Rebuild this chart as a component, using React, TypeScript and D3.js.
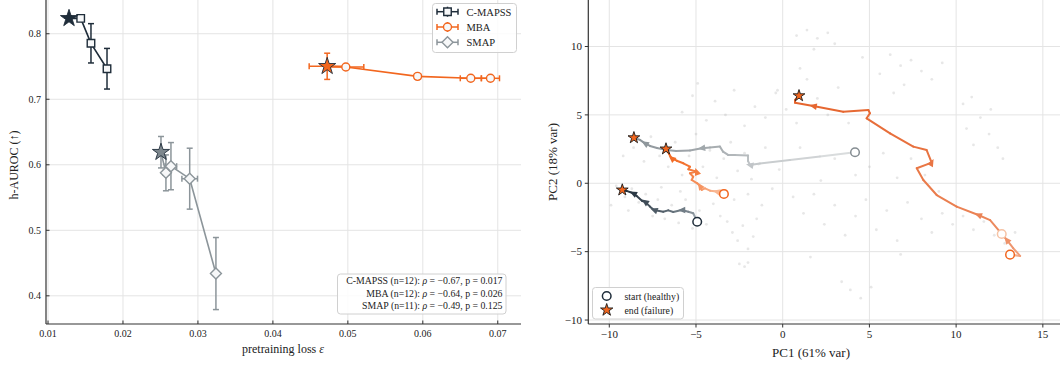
import * as d3 from 'd3';

// ---------- left panel: pretraining loss vs h-AUROC ----------
const cmapssLoss = [0.0128, 0.01436, 0.01573, 0.01787];
const cmapssAuroc = [0.8235, 0.8235, 0.7854, 0.7466];
const cmapssLossErr = [0.0003, 0.0003, 0.0002, 0.0002];
const cmapssAurocErr = [0.004, 0.004, 0.03, 0.031];

const mbaLoss = [0.04724, 0.04973, 0.0593, 0.0664, 0.06903];
const mbaAuroc = [0.7503, 0.7492, 0.735, 0.732, 0.732];
const mbaLossErr = [0.0024, 0.0024, 0.0004, 0.0014, 0.0012];
const mbaAurocErr = [0.02, 0.003, 0.002, 0.003, 0.003];

const smapLoss = [0.02507, 0.02573, 0.0264, 0.0289, 0.0324];
const smapAuroc = [0.6192, 0.5877, 0.5979, 0.5788, 0.434];
const smapLossErr = [0.0003, 0.0004, 0.00076, 0.00104, 0.0003];
const smapAurocErr = [0.024, 0.0274, 0.036, 0.0465, 0.055];

const lossTicks = [0.01, 0.02, 0.03, 0.04, 0.05, 0.06, 0.07];
const aurocTicks = [0.4, 0.5, 0.6, 0.7, 0.8];

const statLines = [
  { name: 'C-MAPSS (n=12): ', rho: '−0.67', p: '0.017' },
  { name: 'MBA (n=12): ', rho: '−0.64', p: '0.026' },
  { name: 'SMAP (n=11): ', rho: '−0.49', p: '0.125' },
];

// ---------- right panel: PCA trajectories ----------
const cmapssTraj: [number, number][] = [
  [-4.93, -2.81], [-5.16, -2.19], [-5.44, -2.08], [-5.82, -1.96], [-6.31, -2.1], [-6.6, -1.98],
  [-6.89, -2.08], [-7.42, -1.95], [-7.65, -1.71], [-7.94, -1.35], [-8.1, -1.3], [-8.42, -0.93],
  [-8.62, -0.73], [-9.0, -0.56], [-9.25, -0.49],
];
const mbaShortTraj: [number, number][] = [
  [-3.39, -0.78], [-3.81, -0.61], [-4.19, -0.54], [-4.48, -0.37], [-4.67, -0.49], [-4.77, -0.2],
  [-4.93, 0.0], [-5.25, 0.24], [-5.16, 0.48], [-5.35, 0.73], [-4.96, 0.85], [-5.44, 1.02],
  [-5.35, 1.21], [-5.73, 1.46], [-6.11, 1.65], [-6.4, 1.83], [-6.54, 2.12], [-6.73, 2.51],
];
const smapTraj: [number, number][] = [
  [4.17, 2.27], [2.15, 1.96], [0.42, 1.7], [-1.31, 1.45], [-1.89, 1.34], [-2.0, 1.63], [-2.0, 2.03],
  [-2.75, 2.07], [-3.15, 2.07], [-3.44, 2.31], [-3.62, 2.68], [-4.19, 2.62], [-4.67, 2.56],
  [-5.35, 2.4], [-6.15, 2.36], [-6.69, 2.43], [-7.25, 2.58], [-7.65, 2.73], [-7.94, 2.92],
  [-8.23, 3.17], [-8.58, 3.33],
];
const mbaLongTraj: [number, number][] = [
  [13.11, -5.22], [13.69, -5.31], [13.28, -4.73], [12.92, -4.14], [12.53, -3.56], [11.96, -2.69],
  [11.28, -2.32], [10.03, -1.71], [8.88, -0.86], [8.11, 0.24], [7.73, 1.1], [8.59, 1.51],
  [8.3, 2.43], [7.53, 2.68], [6.19, 3.65], [4.84, 4.75], [5.03, 5.12], [4.94, 5.36], [3.49, 5.23],
  [1.76, 5.65], [0.71, 5.89], [0.71, 6.09], [0.94, 6.4],
];
const extraStart: [number, number] = [12.63, -3.71];

const cloud: [number, number][] = [
  [-9.6, -0.2], [-9.1, -1.0], [-8.7, -0.4], [-8.3, -1.4], [-7.9, -0.8], [-7.5, -2.4], [-7.2, -1.2],
  [-6.8, -2.6], [-6.4, -1.6], [-6.0, -2.9], [-5.6, -1.2], [-5.2, -3.3], [-4.8, -2.0], [-4.4, -3.0],
  [-4.0, -1.5], [-3.6, -2.4], [-9.9, -1.6], [-8.9, -2.0], [-7.0, -0.3], [-5.9, -0.6],
  [-9.2, 2.0], [-8.6, 2.6], [-8.0, 1.6], [-7.6, 3.4], [-7.1, 2.0], [-6.6, 1.2], [-6.2, 3.0],
  [-5.8, 0.6], [-5.4, 2.0], [-5.0, 3.6], [-4.6, 1.2], [-4.2, 2.4], [-3.8, 0.4], [-3.4, 1.8],
  [-3.0, 3.0], [-2.6, 0.9], [-2.2, 2.2], [-1.8, 0.3], [-1.4, 1.4], [-1.0, 2.6], [-0.6, -0.4],
  [-0.2, 1.0], [-2.8, -1.2], [-2.0, -0.8], [-1.2, -1.6],
  [-3.2, -2.8], [-2.9, -3.6], [-2.6, -4.2], [-2.3, -3.1], [-2.0, -4.8], [-1.7, -3.9], [-2.5, -5.9],
  [-2.2, -6.1], [-2.0, -5.8], [-1.5, -2.6],
  [-5.8, 5.2], [-5.2, 6.4], [-4.9, 7.3], [-4.4, 4.6], [-3.9, 6.0], [-3.3, 5.0], [-2.8, 6.8],
  [-2.2, 4.2], [-1.6, 5.6], [-1.0, 4.8], [-0.4, 6.6], [0.2, 5.4], [0.8, 4.4], [1.4, 7.6],
  [2.0, 6.2], [2.6, 5.0], [3.2, 7.0], [3.8, 4.4], [-0.3, 6.8], [1.0, 8.4],
  [1.4, 11.2], [2.0, 10.6], [2.6, 11.0], [1.8, 9.8], [3.0, 10.2], [0.8, 10.8], [6.2, 9.4],
  [6.8, 8.6], [7.4, 9.0], [8.0, 8.2], [8.6, 7.6], [9.2, 8.8], [7.0, 7.2], [6.4, 6.6], [5.6, 8.0],
  [4.6, 9.2],
  [10.4, 5.8], [10.9, 6.3], [11.4, 4.8], [11.9, 3.6], [12.4, 2.6], [12.7, 1.8], [11.0, 2.8],
  [10.6, 4.0], [12.0, 5.4],
  [0.6, -1.0], [1.2, -2.2], [1.8, -0.8], [2.4, -3.0], [3.0, -1.6], [3.6, -3.8], [4.2, -2.4],
  [4.8, -1.2], [5.4, -3.4], [6.0, -2.0], [6.6, -4.2], [7.2, -1.4], [8.0, -2.6], [8.6, -3.6],
  [9.2, -2.2], [9.8, -3.0], [10.4, -2.4], [11.0, -3.4], [11.6, -2.8], [12.2, -3.8], [12.8, -4.4],
  [13.4, -3.6], [3.4, -7.2], [3.9, -7.8], [4.5, -8.4], [5.1, -7.6], [1.6, -5.4], [6.8, -5.2],
  [5.0, 1.2], [5.8, 2.2], [6.6, 0.4], [7.4, 1.8], [8.2, 0.6], [9.0, -0.6], [4.2, 0.6], [3.0, 1.8],
  [2.2, 0.2], [1.0, 2.6],
];

const pcxTicks = [-10, -5, 0, 5, 10, 15];
const pcyTicks = [-10, -5, 0, 5, 10];

const NAVY = '#1f2d3a';
const ORANGE = '#f2661e';
const GRAY = '#8c959a';
const GRID = '#e4e4e4';
const FONT = '"Liberation Serif", "DejaVu Serif", serif';

const fmtMinus = (v: number) => (v < 0 ? `−${Math.abs(v)}` : `${v}`);

const starPath = (r: number) => d3.symbol().type(d3.symbolStar).size((r * r) / 0.8908130915)()!;
const diamondPath = (r: number) => `M0,${-r}L${r},0L0,${r}L${-r},0Z`;
const squarePath = (s: number) => `M${-s / 2},${-s / 2}h${s}v${s}h${-s}Z`;
const circlePath = (r: number) => d3.symbol().type(d3.symbolCircle).size(Math.PI * r * r)()!;

type Series = {
  id: string;
  color: string;
  marker: string;
  starFill: string;
  loss: number[];
  auroc: number[];
  lossErr: number[];
  aurocErr: number[];
};

const seriesList: Series[] = [
  { id: 'C-MAPSS', color: NAVY, marker: squarePath(7.5), starFill: NAVY, loss: cmapssLoss, auroc: cmapssAuroc, lossErr: cmapssLossErr, aurocErr: cmapssAurocErr },
  { id: 'MBA', color: ORANGE, marker: circlePath(4), starFill: ORANGE, loss: mbaLoss, auroc: mbaAuroc, lossErr: mbaLossErr, aurocErr: mbaAurocErr },
  { id: 'SMAP', color: GRAY, marker: diamondPath(5.5), starFill: '#7d878d', loss: smapLoss, auroc: smapAuroc, lossErr: smapLossErr, aurocErr: smapAurocErr },
];

// gamma < 1 keeps the path dark for longer before fading towards the start
const trajList = [
  { id: 'cmapss', pts: cmapssTraj, c0: '#a9b3ba', c1: NAVY, ring: NAVY, gamma: 0.6, arrows: [3, 7, 9, 12] },
  { id: 'smap', pts: smapTraj, c0: '#e3e5e6', c1: '#8a9297', ring: '#858d92', gamma: 0.6, arrows: [4, 12, 18] },
  { id: 'mbaLong', pts: mbaLongTraj, c0: '#fbdccb', c1: '#e5622a', ring: ORANGE, gamma: 0.25, arrows: [3, 6, 11, 19] },
  { id: 'mbaShort', pts: mbaShortTraj, c0: '#fbd5bf', c1: ORANGE, ring: ORANGE, gamma: 0.45, arrows: [1, 5, 10, 15] },
];

function LeftPanel() {
  const x = d3.scaleLinear().domain([0.00973, 0.0731]).range([46, 521]);
  const y = d3.scaleLinear().domain([0.357, 0.8515]).range([324, 0]);

  return (
    <g fontFamily={FONT}>
      {lossTicks.map((t) => (
        <line key={`gx${t}`} x1={x(t)} x2={x(t)} y1={0} y2={324} stroke={GRID} strokeWidth={1} />
      ))}
      {aurocTicks.map((t) => (
        <line key={`gy${t}`} x1={46} x2={521} y1={y(t)} y2={y(t)} stroke={GRID} strokeWidth={1} />
      ))}

      {seriesList.map((s) => {
        const path = d3
          .line<number>()
          .x((_, i) => x(s.loss[i]))
          .y((_, i) => y(s.auroc[i]))(s.loss);
        return (
          <g key={s.id}>
            {s.loss.map((l, i) => {
              const cx = x(l);
              const cy = y(s.auroc[i]);
              const x0 = x(l - s.lossErr[i]);
              const x1 = x(l + s.lossErr[i]);
              const y0 = y(s.auroc[i] - s.aurocErr[i]);
              const y1 = y(s.auroc[i] + s.aurocErr[i]);
              return (
                <g key={i} stroke={s.color} strokeWidth={1.5}>
                  <line x1={cx} x2={cx} y1={y0} y2={y1} />
                  <line x1={cx - 3} x2={cx + 3} y1={y0} y2={y0} />
                  <line x1={cx - 3} x2={cx + 3} y1={y1} y2={y1} />
                  <line x1={x0} x2={x1} y1={cy} y2={cy} />
                  <line x1={x0} x2={x0} y1={cy - 3} y2={cy + 3} />
                  <line x1={x1} x2={x1} y1={cy - 3} y2={cy + 3} />
                </g>
              );
            })}
            <path d={path ?? ''} fill="none" stroke={s.color} strokeWidth={1.6} />
            {s.loss.map((l, i) =>
              i === 0 ? null : (
                <path
                  key={i}
                  d={s.marker}
                  transform={`translate(${x(l)},${y(s.auroc[i])})`}
                  fill="#f7f8f9"
                  stroke={s.color}
                  strokeWidth={1.4}
                />
              ),
            )}
            <path
              d={starPath(9)}
              transform={`translate(${x(s.loss[0])},${y(s.auroc[0])})`}
              fill={s.starFill}
              stroke={NAVY}
              strokeWidth={0.9}
            />
          </g>
        );
      })}

      {/* axes */}
      <line x1={46} x2={46} y1={0} y2={324} stroke="#333" strokeWidth={1.2} />
      <line x1={46} x2={521} y1={324} y2={324} stroke="#333" strokeWidth={1.2} />
      {lossTicks.map((t) => (
        <g key={`tx${t}`}>
          <line x1={x(t)} x2={x(t)} y1={324} y2={320.5} stroke="#333" />
          <text x={x(t)} y={337} fontSize={10} textAnchor="middle" fill="#222">
            {t.toFixed(2)}
          </text>
        </g>
      ))}
      {aurocTicks.map((t) => (
        <g key={`ty${t}`}>
          <line x1={46} x2={49.5} y1={y(t)} y2={y(t)} stroke="#333" />
          <text x={41} y={y(t) + 3.5} fontSize={10} textAnchor="end" fill="#222">
            {t.toFixed(1)}
          </text>
        </g>
      ))}
      <text x={283} y={353} fontSize={12} textAnchor="middle" fill="#222">
        pretraining loss <tspan fontStyle="italic">ε</tspan>
      </text>
      <text transform="translate(18,165) rotate(-90)" fontSize={12} textAnchor="middle" fill="#222">
        h-AUROC (↑)
      </text>

      {/* legend */}
      <rect x={432.5} y={3.5} width={84} height={49} rx={3} fill="white" fillOpacity={0.85} stroke="#d0d0d0" />
      {seriesList.map((s, i) => {
        const ly = 11.7 + i * 15.3;
        return (
          <g key={`lg${s.id}`}>
            <line x1={437} x2={458} y1={ly} y2={ly} stroke={s.color} strokeWidth={1.5} />
            <line x1={437} x2={437} y1={ly - 3} y2={ly + 3} stroke={s.color} strokeWidth={1.5} />
            <line x1={458} x2={458} y1={ly - 3} y2={ly + 3} stroke={s.color} strokeWidth={1.5} />
            <line x1={447.5} x2={447.5} y1={ly - 5} y2={ly + 5} stroke={s.color} strokeWidth={1.5} />
            <path d={s.marker} transform={`translate(447.5,${ly})`} fill="#f7f8f9" stroke={s.color} strokeWidth={1.4} />
            <text x={466.5} y={ly + 3.8} fontSize={10.5} fill="#222">
              {s.id}
            </text>
          </g>
        );
      })}

      {/* correlation box */}
      <rect x={337.5} y={274} width={168.5} height={40} rx={3} fill="white" fillOpacity={0.85} stroke="#d0d0d0" />
      {statLines.map((s, i) => (
        <text key={s.name} x={502.5} y={284.3 + i * 12.3} fontSize={9.8} textAnchor="end" fill="#222">
          {s.name}
          <tspan fontStyle="italic">ρ</tspan>
          {` = ${s.rho}, p = ${s.p}`}
        </text>
      ))}
    </g>
  );
}

function RightPanel() {
  const x = d3.scaleLinear().domain([-11.21, 15.99]).range([588.3, 1060]);
  const y = d3.scaleLinear().domain([-10.29, 13.4]).range([324, 0]);

  return (
    <g fontFamily={FONT}>
      {pcxTicks.map((t) => (
        <line key={`gx${t}`} x1={x(t)} x2={x(t)} y1={0} y2={324} stroke={GRID} strokeWidth={1} />
      ))}
      {pcyTicks.map((t) => (
        <line key={`gy${t}`} x1={588} x2={1060} y1={y(t)} y2={y(t)} stroke={GRID} strokeWidth={1} />
      ))}

      {cloud.map((p, i) => (
        <circle key={i} cx={x(p[0])} cy={y(p[1])} r={1.4} fill="#b5b5b5" opacity={0.32} />
      ))}

      {trajList.map((tr) => {
        const n = tr.pts.length;
        const colorAt = (t: number) => d3.interpolateRgb(tr.c0, tr.c1)(Math.pow(t, tr.gamma));
        return (
          <g key={tr.id}>
            {tr.pts.slice(1).map((p, i) => {
              const a = tr.pts[i];
              const t = (i + 0.5) / (n - 1);
              return (
                <line
                  key={i}
                  x1={x(a[0])}
                  y1={y(a[1])}
                  x2={x(p[0])}
                  y2={y(p[1])}
                  stroke={colorAt(t)}
                  strokeWidth={2}
                  strokeLinecap="round"
                />
              );
            })}
            {tr.arrows.map((k) => {
              const a = tr.pts[k - 1];
              const b = tr.pts[k + 1] ?? tr.pts[k];
              const ang = (Math.atan2(y(b[1]) - y(a[1]), x(b[0]) - x(a[0])) * 180) / Math.PI;
              const p = tr.pts[k];
              return (
                <path
                  key={`a${k}`}
                  d="M4,0L-3.5,3.3L-3.5,-3.3Z"
                  transform={`translate(${x(p[0])},${y(p[1])}) rotate(${ang})`}
                  fill={colorAt(k / (n - 1))}
                />
              );
            })}
            <circle
              cx={x(tr.pts[0][0])}
              cy={y(tr.pts[0][1])}
              r={4.3}
              fill="white"
              stroke={tr.ring}
              strokeWidth={1.5}
            />
            <path
              d={starPath(6.2)}
              transform={`translate(${x(tr.pts[n - 1][0])},${y(tr.pts[n - 1][1])})`}
              fill={ORANGE}
              stroke="#1a1a1a"
              strokeWidth={0.9}
            />
          </g>
        );
      })}
      <circle cx={x(extraStart[0])} cy={y(extraStart[1])} r={4.3} fill="white" stroke="#f6c3a5" strokeWidth={1.5} />

      {/* axes */}
      <line x1={588.3} x2={588.3} y1={0} y2={324} stroke="#333" strokeWidth={1.2} />
      <line x1={588.3} x2={1060} y1={324} y2={324} stroke="#333" strokeWidth={1.2} />
      {pcxTicks.map((t) => (
        <g key={`tx${t}`}>
          <line x1={x(t)} x2={x(t)} y1={324} y2={327.5} stroke="#333" />
          <text x={x(t)} y={338} fontSize={11} textAnchor="middle" fill="#222">
            {fmtMinus(t)}
          </text>
        </g>
      ))}
      {pcyTicks.map((t) => (
        <g key={`ty${t}`}>
          <line x1={584.8} x2={588.3} y1={y(t)} y2={y(t)} stroke="#333" />
          <text x={582} y={y(t) + 3.8} fontSize={11} textAnchor="end" fill="#222">
            {fmtMinus(t)}
          </text>
        </g>
      ))}
      <text x={811} y={357} fontSize={13} textAnchor="middle" fill="#222">
        PC1 (61% var)
      </text>
      <text transform="translate(557,162) rotate(-90)" fontSize={13} textAnchor="middle" fill="#222">
        PC2 (18% var)
      </text>

      {/* legend */}
      <rect x={592.5} y={287.5} width={91} height={31.5} rx={3} fill="white" fillOpacity={0.85} stroke="#d0d0d0" />
      <circle cx={606.7} cy={296} r={4.3} fill="white" stroke={NAVY} strokeWidth={1.5} />
      <text x={624.5} y={299.5} fontSize={9.8} fill="#222">
        start (healthy)
      </text>
      <path d={starPath(6.5)} transform="translate(606.7,310)" fill={ORANGE} stroke="#1a1a1a" strokeWidth={0.9} />
      <text x={624.5} y={313.5} fontSize={9.8} fill="#222">
        end (failure)
      </text>
    </g>
  );
}

export default function App() {
  return (
    <svg
      width={1060}
      height={366}
      viewBox="0 0 1060 366"
      style={{ position: 'absolute', left: 0, top: 0, background: 'white' }}
    >
      <rect width={1060} height={366} fill="white" />
      <LeftPanel />
      <RightPanel />
    </svg>
  );
}
